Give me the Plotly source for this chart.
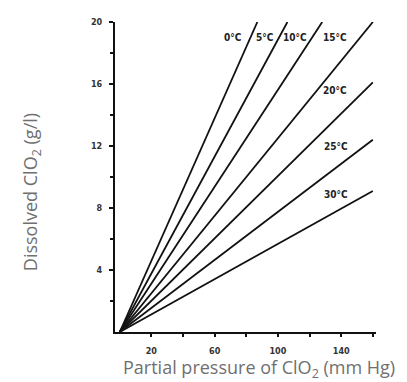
import plotly.graph_objects as go

# Data
temperatures = ["0°C", "5°C", "10°C", "15°C", "20°C", "25°C", "30°C"]
end_pressure = [87, 106, 128, 160, 160, 160, 160]      # mm Hg at end of line
end_dissolved = [20, 20, 20, 20, 16.1, 12.4, 9.1]      # g/l at end of line
label_x = [71.5, 92, 110.5, 136, 136, 137, 137]
label_y = [19.0, 19.0, 19.0, 19.0, 15.6, 12.0, 8.9]

x_tickvals = [20, 60, 100, 140]
x_minor = [40, 80, 120, 160]
y_tickvals = [4, 8, 12, 16, 20]
y_minor = [2, 6, 10, 14, 18]

fig = go.Figure()
for t, xe, ye in zip(temperatures, end_pressure, end_dissolved):
    fig.add_trace(go.Scatter(x=[0, xe], y=[0, ye], mode="lines",
                             line=dict(color="#111111", width=1.8),
                             name=t, showlegend=False, hoverinfo="skip"))

for t, lx, ly in zip(temperatures, label_x, label_y):
    fig.add_annotation(x=lx, y=ly, text=t, showarrow=False,
                       font=dict(family="DejaVu Sans Condensed", size=10, color="#222222", weight="bold"),
                       xanchor="center", yanchor="middle")

fig.add_annotation(xref="paper", yref="paper", x=0.552, y=-0.117,
                   text="Partial pressure of ClO<sub>2</sub> (mm Hg)", showarrow=False,
                   font=dict(family="Open Sans", size=18, color="#707070"),
                   xanchor="center", yanchor="middle")
fig.add_annotation(xref="paper", yref="paper", x=-0.322, y=0.451,
                   text="Dissolved ClO<sub>2</sub> (g/l)", showarrow=False, textangle=-90,
                   font=dict(family="Open Sans", size=18, color="#707070"),
                   xanchor="center", yanchor="middle")

tickfont = dict(family="DejaVu Sans Condensed", size=9, color="#333333", weight="bold")
fig.update_xaxes(range=[-3, 162], tickmode="array", tickvals=x_tickvals,
                 ticktext=[str(v) for v in x_tickvals], ticks="outside", ticklen=3,
                 tickwidth=1.5, tickcolor="#111111", ticklabelstandoff=6,
                 minor=dict(tickvals=x_minor, ticks="outside", ticklen=3,
                            tickwidth=1.5, tickcolor="#111111"),
                 showline=True, linecolor="#111111", linewidth=2, showgrid=False,
                 zeroline=False, tickfont=tickfont)
fig.update_yaxes(range=[0, 20], tickmode="array", tickvals=y_tickvals,
                 ticktext=[str(v) for v in y_tickvals], ticks="outside", ticklen=4,
                 tickwidth=1.5, tickcolor="#111111", ticklabelstandoff=5,
                 minor=dict(tickvals=y_minor, ticks="outside", ticklen=3,
                            tickwidth=1.5, tickcolor="#111111"),
                 showline=True, linecolor="#111111", linewidth=2, showgrid=False,
                 zeroline=False, tickfont=tickfont)

# The page body has an 8px margin, so the figure is shifted by 8px; compensate.
fig.update_layout(width=399, height=374, margin=dict(l=107, r=31, t=9, b=50),
                  plot_bgcolor="white", paper_bgcolor="white")

fig.write_html("out.html")
